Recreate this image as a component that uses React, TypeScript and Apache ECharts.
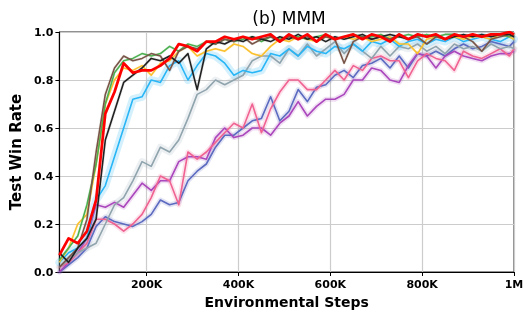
import React, { useEffect, useRef } from "react";
import * as echarts from "echarts";

const steps = [
  10000, 30000, 50000, 70000, 90000, 110000, 130000, 150000, 170000, 190000,
  210000, 230000, 250000, 270000, 290000, 310000, 330000, 350000, 370000, 390000,
  410000, 430000, 450000, 470000, 490000, 510000, 530000, 550000, 570000, 590000,
  610000, 630000, 650000, 670000, 690000, 710000, 730000, 750000, 770000, 790000,
  810000, 830000, 850000, 870000, 890000, 910000, 930000, 950000, 970000, 990000,
  1000000,
];

const xTicks = [200000, 400000, 600000, 800000, 1000000];
const xTickLabels = ["200K", "400K", "600K", "800K", "1M"];

const redVals = [
  0.07, 0.14, 0.12, 0.17, 0.3, 0.66, 0.75, 0.87, 0.83, 0.84,
  0.84, 0.86, 0.89, 0.95, 0.94, 0.92, 0.96, 0.96, 0.98, 0.97,
  0.98, 0.97, 0.98, 0.99, 0.96, 0.99, 0.97, 0.99, 0.96, 0.99,
  0.97, 0.98, 0.99, 0.97, 0.99, 0.98, 0.96, 0.99, 0.97, 0.99,
  0.98, 0.99, 0.97, 0.99, 0.98, 0.99, 0.98, 0.99, 0.99, 1.0,
  0.99,
];
const greenVals = [
  0.05, 0.1, 0.15, 0.28, 0.45, 0.7, 0.83, 0.88, 0.89, 0.91,
  0.9, 0.91, 0.94, 0.92, 0.95, 0.94, 0.96, 0.95, 0.97, 0.96,
  0.97, 0.98, 0.96, 0.98, 0.97, 0.98, 0.98, 0.97, 0.98, 0.99,
  0.97, 0.98, 0.99, 0.98, 0.98, 0.99, 0.97, 0.98, 0.99, 0.98,
  0.99, 0.98, 0.99, 0.99, 0.98, 0.99, 0.98, 0.99, 0.99, 0.98,
  0.99,
];
const brownVals = [
  0.02, 0.06, 0.1, 0.22, 0.5, 0.74, 0.85, 0.9, 0.88, 0.89,
  0.91, 0.9, 0.84, 0.92, 0.94, 0.93, 0.96, 0.95, 0.97, 0.96,
  0.98, 0.95, 0.97, 0.98, 0.96, 0.98, 0.97, 0.98, 0.96, 0.98,
  0.97, 0.87, 0.96, 0.98, 0.97, 0.98, 0.97, 0.99, 0.97, 0.98,
  0.95, 0.98, 0.97, 0.99, 0.98, 0.96, 0.92, 0.97, 0.98, 0.99,
  0.98,
];
const blackVals = [
  0.08, 0.04, 0.1, 0.14, 0.22, 0.55, 0.67, 0.79, 0.82, 0.85,
  0.89, 0.88, 0.9, 0.87, 0.91, 0.76, 0.93, 0.96, 0.95, 0.97,
  0.96, 0.98, 0.97, 0.96, 0.98, 0.97, 0.99, 0.97, 0.98, 0.96,
  0.98, 0.97, 0.98, 0.99, 0.97, 0.98, 0.99, 0.98, 0.97, 0.99,
  0.98, 0.99, 0.97, 0.98, 0.99, 0.98, 0.99, 0.98, 0.99, 0.99,
  0.98,
];
const yellowVals = [
  0.04, 0.1, 0.2, 0.24, 0.45, 0.7, 0.8, 0.85, 0.84, 0.86,
  0.82, 0.87, 0.88, 0.92, 0.94, 0.9, 0.92, 0.93, 0.92, 0.95,
  0.94, 0.91, 0.9, 0.94, 0.97, 0.96, 0.98, 0.97, 0.96, 0.98,
  0.97, 0.98, 0.97, 0.98, 0.96, 0.97, 0.98, 0.95, 0.95, 0.91,
  0.97, 0.98, 0.97, 0.98, 0.97, 0.98, 0.98, 0.97, 0.99, 0.98,
  0.97,
];
const lightBlueVals = [
  0.04, 0.08, 0.1, 0.14, 0.3, 0.36, 0.48, 0.6, 0.72, 0.73,
  0.8, 0.79, 0.86, 0.88, 0.8, 0.86, 0.91, 0.9, 0.87, 0.82,
  0.84, 0.83, 0.84, 0.91, 0.9, 0.93, 0.9, 0.94, 0.92, 0.91,
  0.94, 0.93, 0.95, 0.92, 0.96, 0.95, 0.97, 0.94, 0.96, 0.97,
  0.95, 0.97, 0.96, 0.98, 0.96, 0.97, 0.98, 0.97, 0.96, 0.98,
  0.97,
];
const grayVals = [
  0.02, 0.05, 0.08, 0.1, 0.12, 0.2, 0.28, 0.31, 0.38, 0.46,
  0.44, 0.52, 0.5, 0.55, 0.64, 0.74, 0.76, 0.8, 0.78, 0.8,
  0.82, 0.88, 0.9, 0.9, 0.87, 0.93, 0.9, 0.95, 0.9, 0.93,
  0.96, 0.91, 0.95, 0.92, 0.89, 0.94, 0.9, 0.94, 0.93, 0.95,
  0.92, 0.94, 0.91, 0.95, 0.93, 0.94, 0.92, 0.95, 0.93, 0.94,
  0.93,
];
const pinkVals = [
  0.02, 0.04, 0.08, 0.12, 0.22, 0.22, 0.2, 0.17, 0.2, 0.24,
  0.31, 0.4, 0.38, 0.28, 0.5, 0.47, 0.5, 0.54, 0.58, 0.62,
  0.6, 0.7, 0.58, 0.68, 0.75, 0.8, 0.8, 0.76, 0.76, 0.8,
  0.84, 0.8, 0.86, 0.84, 0.89, 0.9, 0.88, 0.88, 0.81, 0.88,
  0.91, 0.89, 0.88, 0.84, 0.92, 0.9, 0.89, 0.91, 0.93, 0.9,
  0.93,
];
const purpleVals = [
  0.0, 0.04, 0.08, 0.14, 0.28, 0.27, 0.29, 0.27, 0.32, 0.37,
  0.34, 0.38, 0.38, 0.46, 0.48, 0.48, 0.47, 0.56, 0.6, 0.56,
  0.57, 0.6, 0.6, 0.57, 0.62, 0.65, 0.71, 0.65, 0.69, 0.72,
  0.72, 0.74, 0.8, 0.8, 0.85, 0.84, 0.8, 0.79, 0.86, 0.91,
  0.9, 0.85, 0.9, 0.92, 0.9, 0.89, 0.88, 0.9, 0.91, 0.91,
  0.92,
];
const indigoVals = [
  0.0, 0.03, 0.06, 0.1, 0.19, 0.23, 0.21, 0.2, 0.19, 0.21,
  0.24, 0.3, 0.28, 0.29, 0.38, 0.42, 0.45, 0.52, 0.57, 0.57,
  0.6, 0.63, 0.64, 0.73, 0.63, 0.67, 0.76, 0.71, 0.77, 0.78,
  0.82, 0.84, 0.81, 0.86, 0.87, 0.89, 0.85, 0.9, 0.85, 0.91,
  0.9, 0.92, 0.9, 0.93, 0.95, 0.93, 0.94, 0.96, 0.95, 0.94,
  0.96,
];

type S = { name: string; color: string; vals: number[]; width: number; band: number; bandOpacity: number };

const seriesDefs: S[] = [
  { name: "indigo", color: "#5c6bc0", vals: indigoVals, width: 1.6, band: 5, bandOpacity: 0.18 },
  { name: "purple", color: "#ab47bc", vals: purpleVals, width: 1.6, band: 5, bandOpacity: 0.18 },
  { name: "pink", color: "#f06292", vals: pinkVals, width: 1.6, band: 5, bandOpacity: 0.18 },
  { name: "gray", color: "#90a4ae", vals: grayVals, width: 1.6, band: 7, bandOpacity: 0.16 },
  { name: "lightblue", color: "#29b6f6", vals: lightBlueVals, width: 1.6, band: 8, bandOpacity: 0.2 },
  { name: "yellow", color: "#fbc02d", vals: yellowVals, width: 1.6, band: 3, bandOpacity: 0.1 },
  { name: "green", color: "#4caf50", vals: greenVals, width: 1.6, band: 3, bandOpacity: 0.1 },
  { name: "brown", color: "#795548", vals: brownVals, width: 1.6, band: 3, bandOpacity: 0.1 },
  { name: "black", color: "#212121", vals: blackVals, width: 1.6, band: 3, bandOpacity: 0.1 },
  { name: "red", color: "#ff0000", vals: redVals, width: 2.7, band: 3, bandOpacity: 0.1 },
];

const FONT = "DejaVu Sans";

export default function App() {
  const ref = useRef<HTMLDivElement>(null);
  useEffect(() => {
    if (!ref.current) return;
    const chart = echarts.init(ref.current, null, { renderer: "svg" });
    const toData = (vals: number[]) => steps.map((x, i) => [x, vals[i]]);
    const bands = seriesDefs.map((s) => ({
      name: s.name + "-band",
      type: "line",
      data: toData(s.vals),
      showSymbol: false,
      silent: true,
      lineStyle: { color: s.color, width: s.band, opacity: s.bandOpacity, cap: "round", join: "round" },
      z: 1,
    }));
    const lines = seriesDefs.map((s, k) => ({
      name: s.name,
      type: "line",
      data: toData(s.vals),
      showSymbol: false,
      silent: true,
      lineStyle: { color: s.color, width: s.width, join: "round" },
      z: 2 + k,
    }));
    chart.setOption({
      animation: false,
      title: {
        text: "(b) MMM",
        left: 284,
        top: 4,
        textAlign: "center",
        textStyle: { fontFamily: FONT, fontSize: 17, fontWeight: "normal", color: "#000" },
      },
      grid: {
        left: 55,
        right: 17,
        top: 32,
        bottom: 46,
        show: true,
        borderColor: "#222",
        borderWidth: 1,
        backgroundColor: "transparent",
      },
      xAxis: {
        type: "value",
        min: 10000,
        max: 1000000,
        name: "Environmental Steps",
        nameLocation: "middle",
        nameGap: 23,
        nameTextStyle: { fontFamily: FONT, fontSize: 14, fontWeight: "bold", color: "#000" },
        axisLine: { show: true, lineStyle: { color: "#000", width: 1.2 } },
        axisTick: { show: true, length: 4, customValues: xTicks, lineStyle: { color: "#000" } },
        axisLabel: {
          customValues: xTicks,
          margin: 7,
          fontFamily: FONT,
          fontSize: 11,
          fontWeight: "bold",
          color: "#000",
          formatter: (v: number) => {
            const i = xTicks.indexOf(v);
            return i >= 0 ? xTickLabels[i] : "";
          },
        },
        splitLine: { show: true, lineStyle: { color: "#cccccc", width: 1.2 } },
      },
      yAxis: {
        type: "value",
        min: 0,
        max: 1,
        interval: 0.2,
        name: "Test Win Rate",
        nameLocation: "middle",
        nameGap: 34,
        nameTextStyle: { fontFamily: FONT, fontSize: 15, fontWeight: "bold", color: "#000" },
        axisLine: { show: true, lineStyle: { color: "#000", width: 1.2 } },
        axisTick: { show: true, length: 4, lineStyle: { color: "#000" } },
        axisLabel: {
          margin: 6,
          fontFamily: FONT,
          fontSize: 11,
          fontWeight: "bold",
          color: "#000",
          formatter: (v: number) => v.toFixed(1),
        },
        splitLine: { show: true, lineStyle: { color: "#cccccc", width: 1.2 } },
      },
      series: [...bands, ...lines],
    });
    return () => chart.dispose();
  }, []);
  return <div ref={ref} style={{ position: "fixed", left: 0, top: 0, width: 531, height: 318 }} />;
}
